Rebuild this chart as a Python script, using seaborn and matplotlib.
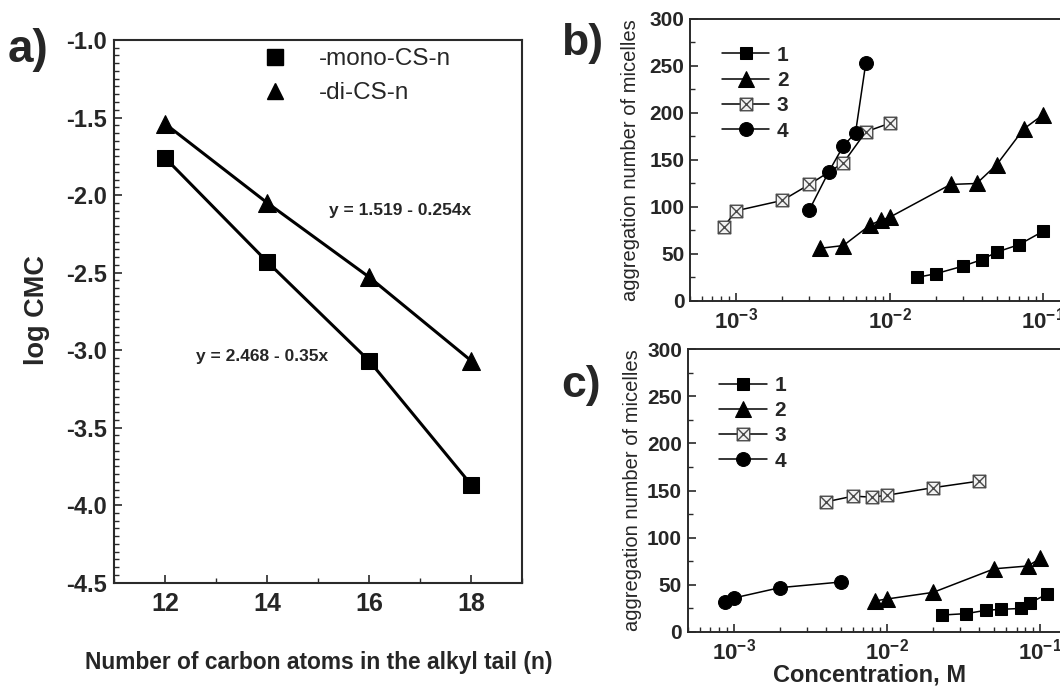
import numpy as np
import pandas as pd
import matplotlib
matplotlib.use("Agg")
import matplotlib.pyplot as plt
from matplotlib.path import Path
from matplotlib.lines import Line2D
from matplotlib.ticker import MultipleLocator, FuncFormatter, NullFormatter, LogLocator
import seaborn as sns

# ---------------- data ----------------
# panel a
n_carbon = [12, 14, 16, 18]
logcmc_mono = [-1.76, -2.43, -3.07, -3.87]
logcmc_di = [-1.54, -2.05, -2.53, -3.07]
eq_mono = "y = 2.468 - 0.35x"
eq_di = "y = 1.519 - 0.254x"
legend_a = ["-mono-CS-n", "-di-CS-n"]

# panel b
b1_x = [0.015, 0.02, 0.03, 0.04, 0.05, 0.07, 0.1]
b1_y = [25, 29, 37, 44, 52, 60, 74]
b2_x = [0.0035, 0.005, 0.0075, 0.0088, 0.01, 0.025, 0.037, 0.05, 0.075, 0.1]
b2_y = [56, 59, 81, 86, 89, 124, 125, 145, 183, 198]
b3_x = [0.00083, 0.001, 0.002, 0.003, 0.005, 0.007, 0.01]
b3_y = [79, 96, 107, 124, 147, 180, 189]
b4_x = [0.003, 0.004, 0.005, 0.006, 0.007]
b4_y = [97, 137, 165, 179, 253]

# panel c
c1_x = [0.023, 0.033, 0.044, 0.055, 0.075, 0.086, 0.11]
c1_y = [18, 19.5, 23, 24, 25, 31, 40]
c2_x = [0.0084, 0.01, 0.02, 0.05, 0.083, 0.1]
c2_y = [33, 35, 42, 67, 70, 78]
c3_x = [0.004, 0.006, 0.008, 0.01, 0.02, 0.04]
c3_y = [138, 144, 143, 145, 153, 160]
c4_x = [0.00088, 0.001, 0.002, 0.005]
c4_y = [32, 36, 47, 53]

series_labels = ["1", "2", "3", "4"]

# ---------------- style ----------------
sns.set_style("ticks")
plt.rcParams["font.family"] = ["Liberation Sans", "DejaVu Sans"]
plt.rcParams["axes.unicode_minus"] = False
plt.rcParams["mathtext.fontset"] = "custom"
plt.rcParams["mathtext.rm"] = "Liberation Sans"
plt.rcParams["mathtext.bf"] = "Liberation Sans:bold"

# crossed-square marker
crossed_square = Path(
    [(-1, -1), (1, -1), (1, 1), (-1, 1), (-1, -1), (-1, -1), (1, 1), (-1, 1), (1, -1)],
    [Path.MOVETO, Path.LINETO, Path.LINETO, Path.LINETO, Path.CLOSEPOLY,
     Path.MOVETO, Path.LINETO, Path.MOVETO, Path.LINETO],
)

fig = plt.figure(figsize=(10.6, 6.88), dpi=100)
fig.patch.set_facecolor("white")

SPINE = "#2a2a2a"


def style_axes(ax, lw=1.4):
    ax.set_facecolor("white")
    for s in ax.spines.values():
        s.set_color(SPINE)
        s.set_linewidth(lw)
    ax.tick_params(which="both", direction="in", top=False, right=False, color=SPINE)
    ax.tick_params(which="major", length=6, width=1.2)
    ax.tick_params(which="minor", length=3.5, width=1.0)


# ---------------- panel a ----------------
axa = fig.add_axes([0.1075, 0.1531, 0.3854, 0.7888])
style_axes(axa, 1.5)
sns.lineplot(x=n_carbon, y=logcmc_mono, ax=axa, color="black", linewidth=2.2,
             marker="s", markersize=12, markeredgecolor="black", markerfacecolor="black")
sns.lineplot(x=n_carbon, y=logcmc_di, ax=axa, color="black", linewidth=2.2,
             marker="^", markersize=13, markeredgecolor="black", markerfacecolor="black")
axa.set_xlim(11, 19)
axa.set_ylim(-4.5, -1.0)
axa.set_xticks([12, 14, 16, 18])
axa.xaxis.set_minor_locator(MultipleLocator(1))
axa.yaxis.set_major_locator(MultipleLocator(0.5))
axa.yaxis.set_minor_locator(MultipleLocator(0.05))
axa.yaxis.set_major_formatter(FuncFormatter(lambda v, p: f"{v:.1f}"))
for lab in axa.get_xticklabels():
    lab.set_fontweight("bold")
    lab.set_fontsize(18)
for lab in axa.get_yticklabels():
    lab.set_fontweight("bold")
    lab.set_fontsize(17)
axa.tick_params(axis="x", pad=7)
axa.tick_params(axis="y", pad=5)
axa.set_xlabel("")
axa.set_ylabel("")
axa.text(16.6, -2.10, eq_di, ha="center", va="center", fontsize=12.5, fontweight="bold")
axa.text(13.9, -3.04, eq_mono, ha="center", va="center", fontsize=12.5, fontweight="bold")
handles_a = [Line2D([], [], linestyle="none", marker="s", markersize=11, color="black"),
             Line2D([], [], linestyle="none", marker="^", markersize=12, color="black")]
axa.legend(handles_a, legend_a, loc="upper left", bbox_to_anchor=(0.365, 0.985),
           frameon=False, fontsize=17.5, handlelength=1.0, handletextpad=1.3,
           labelspacing=0.5, borderpad=0, borderaxespad=0)

fig.text(37 / 1060, 1 - 310 / 688, "log CMC", rotation=90, ha="center", va="center",
         fontsize=19.5, fontweight="bold")
fig.text(319 / 1060, 1 - 663 / 688, "Number of carbon atoms in the alkyl tail (n)",
         ha="center", va="center", fontsize=16.4, fontweight="bold")
fig.text(8 / 1060, 1 - 50 / 688, "a)", ha="left", va="center", fontsize=33, fontweight="bold")


# ---------------- panels b, c ----------------
def log_panel(ax, data, leg_top):
    style_axes(ax, 1.4)
    ax.spines["right"].set_visible(False)
    specs = [
        dict(marker="s", markersize=9, markerfacecolor="black", markeredgecolor="black"),
        dict(marker="^", markersize=11, markerfacecolor="black", markeredgecolor="black"),
        dict(marker=crossed_square, markersize=9, markerfacecolor="#f2f2f2",
             markeredgecolor="#4a4a4a", markeredgewidth=1.0),
        dict(marker="o", markersize=10, markerfacecolor="black", markeredgecolor="black"),
    ]
    for (xs, ys), spec, lab in zip(data, specs, series_labels):
        sns.lineplot(x=xs, y=ys, ax=ax, color="black", linewidth=1.1, label=lab, **spec)
    ax.set_xscale("log")
    ax.set_xlim(5e-4, 0.15)
    ax.set_ylim(0, 300)
    ax.yaxis.set_major_locator(MultipleLocator(50))
    ax.yaxis.set_minor_locator(MultipleLocator(25))
    ax.xaxis.set_major_locator(LogLocator(base=10, numticks=10))
    ax.xaxis.set_minor_locator(LogLocator(base=10, subs=np.arange(2, 10), numticks=20))
    ax.xaxis.set_major_formatter(FuncFormatter(
        lambda v, p: r"$\mathbf{10^{%d}}$" % int(round(np.log10(v)))))
    ax.xaxis.set_minor_formatter(NullFormatter())
    for lab in ax.get_yticklabels():
        lab.set_fontweight("bold")
        lab.set_fontsize(15)
    ax.tick_params(axis="x", labelsize=16, pad=5)
    ax.tick_params(axis="y", pad=4)
    ax.set_xlabel("")
    ax.set_ylabel("")
    ax.legend(loc="upper left", bbox_to_anchor=(0.083, leg_top), frameon=False,
              prop=dict(size=15, weight="bold"), handlelength=2.3, handletextpad=0.35,
              labelspacing=0.3, borderpad=0, borderaxespad=0)


axb = fig.add_axes([0.651, 0.5625, 0.3583, 0.4099])
log_panel(axb, [(b1_x, b1_y), (b2_x, b2_y), (b3_x, b3_y), (b4_x, b4_y)], 0.905)
axc = fig.add_axes([0.6486, 0.0814, 0.3583, 0.4113])
log_panel(axc, [(c1_x, c1_y), (c2_x, c2_y), (c3_x, c3_y), (c4_x, c4_y)], 0.905)

fig.text(631 / 1060, 1 - 160 / 688, "aggregation number of micelles", rotation=90,
         ha="center", va="center", fontsize=14.5)
fig.text(633 / 1060, 1 - 490 / 688, "aggregation number of micelles", rotation=90,
         ha="center", va="center", fontsize=14.5)
fig.text(870 / 1060, 1 - 675 / 688, "Concentration, M", ha="center", va="center",
         fontsize=17, fontweight="bold")
fig.text(561 / 1060, 1 - 44 / 688, "b)", ha="left", va="center", fontsize=32, fontweight="bold")
fig.text(561 / 1060, 1 - 386 / 688, "c)", ha="left", va="center", fontsize=32, fontweight="bold")

fig.savefig("out.png", dpi=100)
